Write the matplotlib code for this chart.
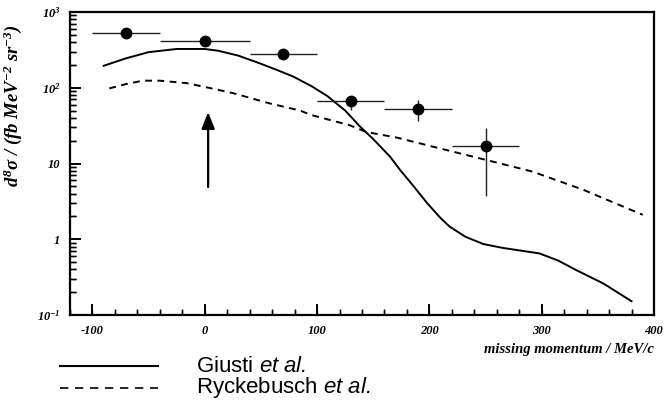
import matplotlib.pyplot as plt
from matplotlib.lines import Line2D
from matplotlib.ticker import NullFormatter

# measured cross sections (missing momentum in MeV/c)
data_pm = [-70, 0, 70, 130, 190, 250]
data_sigma = [528, 418, 277, 66, 52, 17]
data_bin = [30, 40, 30, 30, 30, 30]
data_lo = [30, 25, 20, 15, 16, 13.3]
data_hi = [30, 25, 20, 10, 17, 12.3]

# Giusti et al. calculation
giusti_pm = [-90, -70, -50, -25, 0, 12, 30, 49, 65, 79, 95, 109, 125, 138, 150,
             165, 174, 186, 198, 210, 218, 232, 248, 265, 278, 298, 315, 331, 355, 380]
giusti_sigma = [195, 245, 295, 325, 325, 308, 265, 210, 170, 140, 105, 78, 50, 31, 21,
                12.3, 8.2, 5.0, 3.0, 1.9, 1.47, 1.08, 0.865, 0.77, 0.72, 0.65, 0.52, 0.39, 0.26, 0.152]

# Ryckebusch et al. calculation
ryck_pm = [-85, -70, -55, -40, -16, 2, 25, 58, 85, 94, 129, 144, 171, 203, 251, 292, 337, 390]
ryck_sigma = [98, 112, 124, 124, 115, 101, 85, 62, 50, 44, 32, 26, 22, 16.7, 11.1, 7.8, 4.5, 2.1]

arrow_pm = 3
arrow_from = 4.5
arrow_to = 52

x_ticks = [-100, 0, 100, 200, 300, 400]
x_minor = list(range(-120, 400, 20))
x_labels = ["-100", "0", "100", "200", "300", "400"]
y_ticks = [0.1, 1, 10, 100, 1000]
y_minor = [m * d for d in (0.1, 1, 10, 100) for m in range(2, 10)]
y_labels = [r"$10^{-1}$", "1", "10", r"$10^{2}$", r"$10^{3}$"]

serif = "Liberation Serif"
plt.rcParams["mathtext.fontset"] = "custom"
plt.rcParams["mathtext.rm"] = "Liberation Serif:italic:bold"
plt.rcParams["mathtext.it"] = "Liberation Serif:italic:bold"
plt.rcParams["mathtext.sf"] = "Liberation Sans:italic"
plt.rcParams["axes.linewidth"] = 1.6
plt.rcParams["xtick.direction"] = "in"
plt.rcParams["ytick.direction"] = "in"
plt.rcParams["xtick.major.size"] = 8
plt.rcParams["ytick.major.size"] = 8
plt.rcParams["xtick.minor.size"] = 4
plt.rcParams["ytick.minor.size"] = 4
plt.rcParams["xtick.major.width"] = 1.2
plt.rcParams["ytick.major.width"] = 1.2
plt.rcParams["xtick.minor.width"] = 1.0
plt.rcParams["ytick.minor.width"] = 1.0
plt.rcParams["xtick.major.pad"] = 7
plt.rcParams["ytick.major.pad"] = 7

fig = plt.figure(figsize=(6.64, 4.08), dpi=100)
ax = fig.add_axes([70 / 664, 1 - 315 / 408, 584 / 664, 303 / 408])
ax.set_yscale("log")

ax.plot(giusti_pm, giusti_sigma, color="black", lw=1.4)
ax.plot(ryck_pm, ryck_sigma, color="black", lw=1.4, linestyle=(0, (3.5, 2.8)))
ax.errorbar(data_pm, data_sigma, xerr=data_bin, yerr=[data_lo, data_hi],
            fmt="o", color="black", ms=7.5, elinewidth=1.0, ecolor="#222222", capsize=0)

ax.annotate("", xy=(arrow_pm, arrow_to), xytext=(arrow_pm, arrow_from),
            arrowprops=dict(arrowstyle="-|>,head_length=1.0,head_width=0.4",
                            color="black", lw=1.6))

ax.set_xlim(-120, 400)
ax.set_ylim(0.1, 1000)

ax.set_xticks(x_ticks)
ax.set_xticks(x_minor, minor=True)
ax.set_yticks(y_ticks)
ax.set_yticks(y_minor, minor=True)
ax.set_xticklabels(x_labels, fontfamily=serif, fontstyle="italic", fontweight="bold", fontsize=9)
ax.set_yticklabels(y_labels, fontfamily=serif, fontstyle="italic", fontweight="bold", fontsize=9)
ax.yaxis.set_minor_formatter(NullFormatter())

# inward tick marks drawn along the bottom and left frame
xt = ax.get_xaxis_transform()
yt = ax.get_yaxis_transform()
ax.vlines(x_ticks, 0, 0.036, transform=xt, color="black", lw=1.2, clip_on=False)
ax.vlines(x_minor, 0, 0.018, transform=xt, color="black", lw=1.0, clip_on=False)
ax.hlines(y_ticks, 0, 0.019, transform=yt, color="black", lw=1.2, clip_on=False)
ax.hlines(y_minor, 0, 0.0095, transform=yt, color="black", lw=1.0, clip_on=False)

ax.set_ylabel(r"$d^{8}\sigma$ / (fb MeV$^{-2}$ sr$^{-3}$)", fontfamily=serif,
              fontstyle="italic", fontweight="bold", fontsize=13.5)
ax.yaxis.set_label_coords(-0.078, 0.69)
fig.text(654 / 664, 1 - 350 / 408, "missing momentum / MeV/c", ha="right", va="center",
         fontfamily=serif, fontstyle="italic", fontweight="bold", fontsize=10.5)

# legend drawn underneath the frame
fig.add_artist(Line2D([60 / 664, 158 / 664], [1 - 366 / 408] * 2, color="black", lw=1.5))
fig.add_artist(Line2D([60 / 664, 158 / 664], [1 - 388 / 408] * 2, color="black", lw=1.2,
                      linestyle=(0, (5, 4))))
fig.text(196 / 664, 1 - 366 / 408, r"Giusti $\mathsf{et\ al.}$", va="center",
         fontfamily="Liberation Sans", fontsize=16)
fig.text(196 / 664, 1 - 388 / 408, r"Ryckebusch $\mathsf{et\ al.}$", va="center",
         fontfamily="Liberation Sans", fontsize=16)

fig.savefig("out.png", dpi=100)
